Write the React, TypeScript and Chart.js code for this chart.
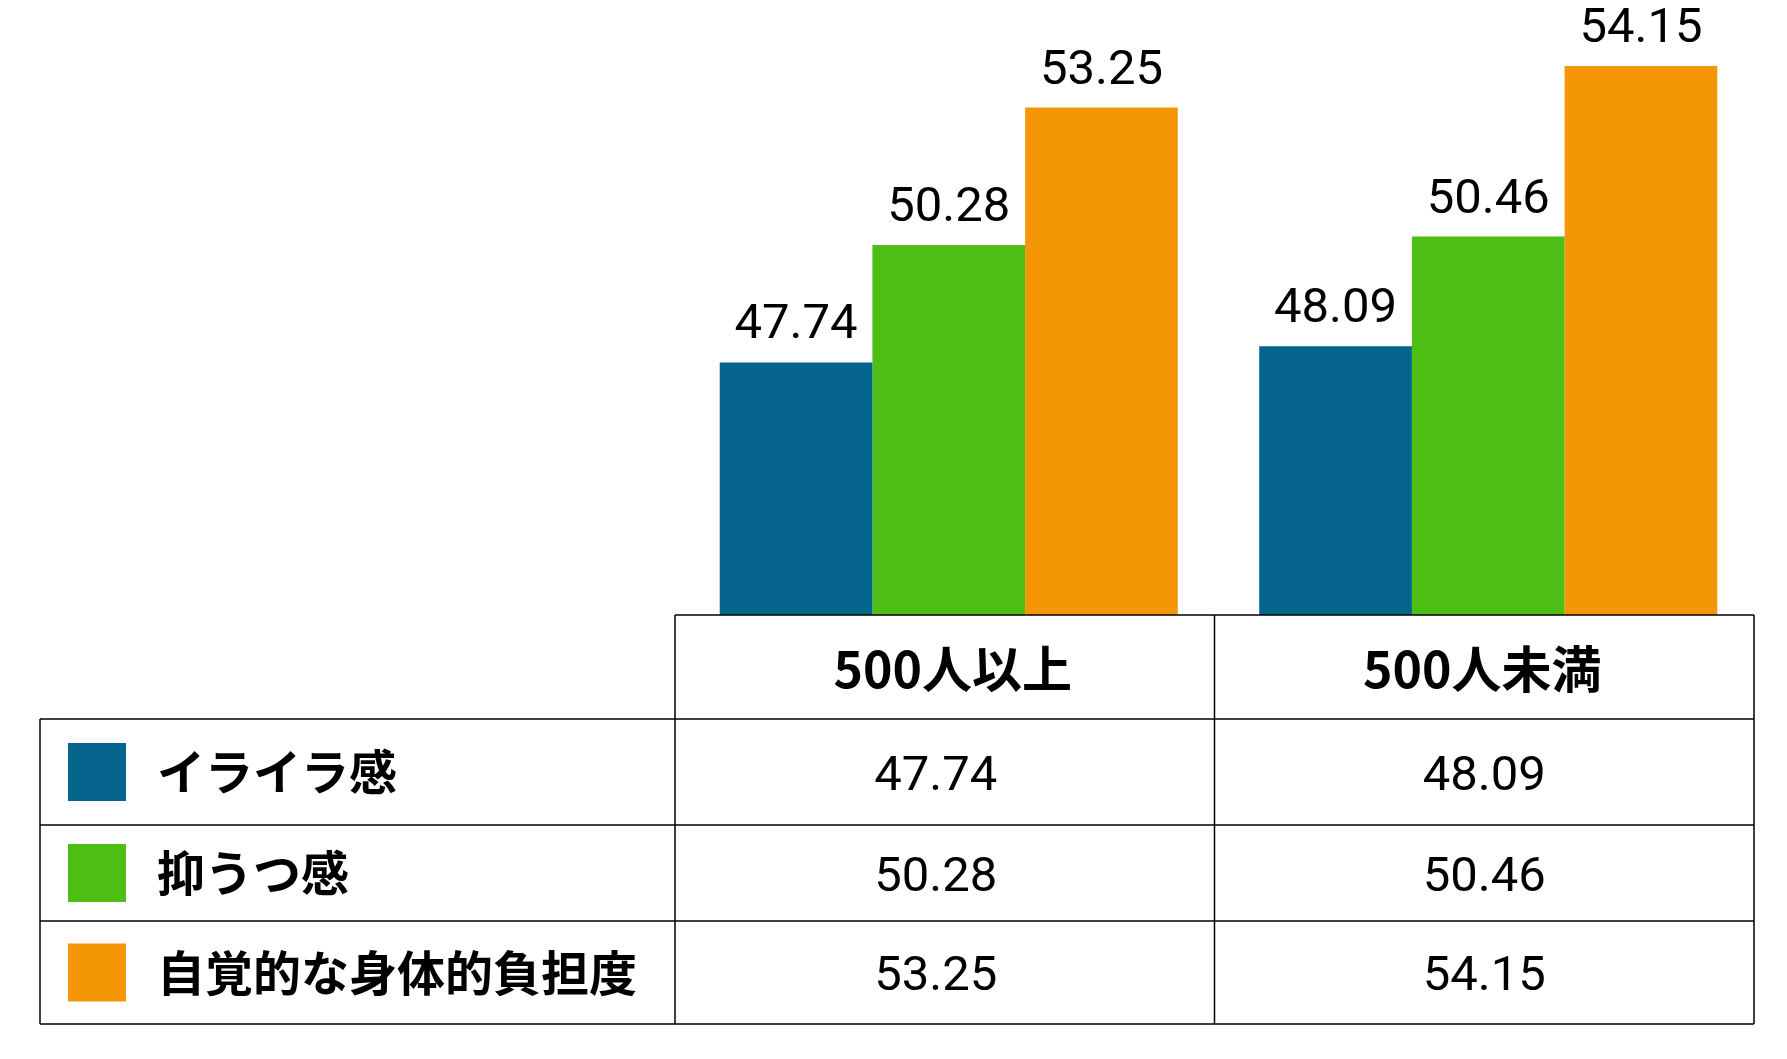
import React, { useEffect, useRef } from 'react';
import { Chart, registerables } from 'chart.js';

Chart.register(...registerables);

// ---- data ----
const categories = ['500人以上', '500人未満'];
const seriesNames = ['イライラ感', '抑うつ感', '自覚的な身体的負担度'];
const irairaValues = [47.74, 48.09];
const yokuutsuValues = [50.28, 50.46];
const shintaiFutanValues = [53.25, 54.15];
const seriesColors = ['#05658c', '#4fbe14', '#f49605'];
const yMin = 42.28;
const yMax = 55.25;

// ---- layout / style ----
const W = 1787;
const H = 1059;
const NUM_FONT = '49px Roboto';
const LABEL_FONT = 'bold 48px "Noto Sans CJK JP"';
const HEADER_FONT = 'bold 50px "Noto Sans CJK JP"';
const TABLE_LEFT = 40;
const TABLE_SHIFT = -4;
const HEADER_TOP = 615;
const ROW_LINES = [719, 825, 921, 1024];
const HEADER_NUDGE = [8, -2];
const VALUE_NUDGE = [-9, 0];

const seriesData = [irairaValues, yokuutsuValues, shintaiFutanValues];

const valueLabelPlugin = {
  id: 'valueLabels',
  afterDatasetsDraw(chart: any) {
    const ctx = chart.ctx;
    ctx.save();
    ctx.font = NUM_FONT;
    ctx.fillStyle = '#000';
    ctx.textAlign = 'center';
    ctx.textBaseline = 'alphabetic';
    chart.data.datasets.forEach((ds: any, di: number) => {
      const meta = chart.getDatasetMeta(di);
      meta.data.forEach((el: any, i: number) => {
        ctx.fillText(Number(ds.data[i]).toFixed(2), el.x, el.y - 24);
      });
    });
    ctx.restore();
  },
};

const dataTablePlugin = {
  id: 'dataTable',
  afterDraw(chart: any) {
    const ctx = chart.ctx;
    const left = chart.chartArea.left + TABLE_SHIFT;
    const right = chart.chartArea.right + TABLE_SHIFT;
    const n = categories.length;
    const colW = (right - left) / n;
    const bottom = ROW_LINES[ROW_LINES.length - 1];
    ctx.save();
    ctx.strokeStyle = '#000';
    ctx.lineWidth = 1.5;
    const line = (x1: number, y1: number, x2: number, y2: number) => {
      ctx.beginPath();
      ctx.moveTo(x1, y1);
      ctx.lineTo(x2, y2);
      ctx.stroke();
    };
    // header top border
    line(left, HEADER_TOP, right, HEADER_TOP);
    // row lines
    ROW_LINES.forEach((y) => line(TABLE_LEFT, y, right, y));
    // left border of label column
    line(TABLE_LEFT, ROW_LINES[0], TABLE_LEFT, bottom);
    // column borders
    for (let i = 0; i <= n; i++) {
      const x = left + i * colW;
      line(x, HEADER_TOP, x, bottom);
    }
    // header texts
    ctx.fillStyle = '#000';
    ctx.textAlign = 'center';
    ctx.textBaseline = 'middle';
    ctx.font = HEADER_FONT;
    const headerMid = (HEADER_TOP + ROW_LINES[0]) / 2;
    categories.forEach((c, i) => {
      ctx.fillText(c, left + (i + 0.5) * colW + HEADER_NUDGE[i], headerMid + 2);
    });
    // rows
    seriesNames.forEach((name, r) => {
      const top = ROW_LINES[r];
      const bot = ROW_LINES[r + 1];
      const mid = (top + bot) / 2;
      ctx.fillStyle = seriesColors[r];
      ctx.fillRect(68, mid - 29, 58, 58);
      ctx.fillStyle = '#000';
      ctx.font = LABEL_FONT;
      ctx.textAlign = 'left';
      ctx.textBaseline = 'middle';
      ctx.fillText(name, 157, mid);
      ctx.font = NUM_FONT;
      ctx.textAlign = 'center';
      ctx.textBaseline = 'alphabetic';
      seriesData[r].forEach((v, i) => {
        ctx.fillText(v.toFixed(2), left + (i + 0.5) * colW + VALUE_NUDGE[i], mid + 17.5);
      });
    });
    ctx.restore();
  },
};

export default function App() {
  const canvasRef = useRef<HTMLCanvasElement | null>(null);

  useEffect(() => {
    const canvas = canvasRef.current;
    if (!canvas) return;
    const chart = new Chart(canvas, {
      type: 'bar',
      data: {
        labels: categories,
        datasets: seriesNames.map((name, i) => ({
          label: name,
          data: seriesData[i],
          backgroundColor: seriesColors[i],
          borderWidth: 0,
          barPercentage: 1,
          categoryPercentage: 0.849,
        })),
      },
      options: {
        responsive: false,
        animation: false,
        layout: { padding: { left: 679, right: 29, top: 15, bottom: H - HEADER_TOP } },
        plugins: {
          legend: { display: false },
          tooltip: { enabled: false },
          title: { display: false },
        },
        scales: {
          x: { display: false },
          y: { display: false, min: yMin, max: yMax },
        },
      },
      plugins: [valueLabelPlugin, dataTablePlugin],
    } as any);
    return () => chart.destroy();
  }, []);

  return (
    <div style={{ position: 'absolute', left: 0, top: 0, width: W, height: H, background: '#fff' }}>
      <canvas ref={canvasRef} width={W} height={H} style={{ display: 'block' }} />
    </div>
  );
}
